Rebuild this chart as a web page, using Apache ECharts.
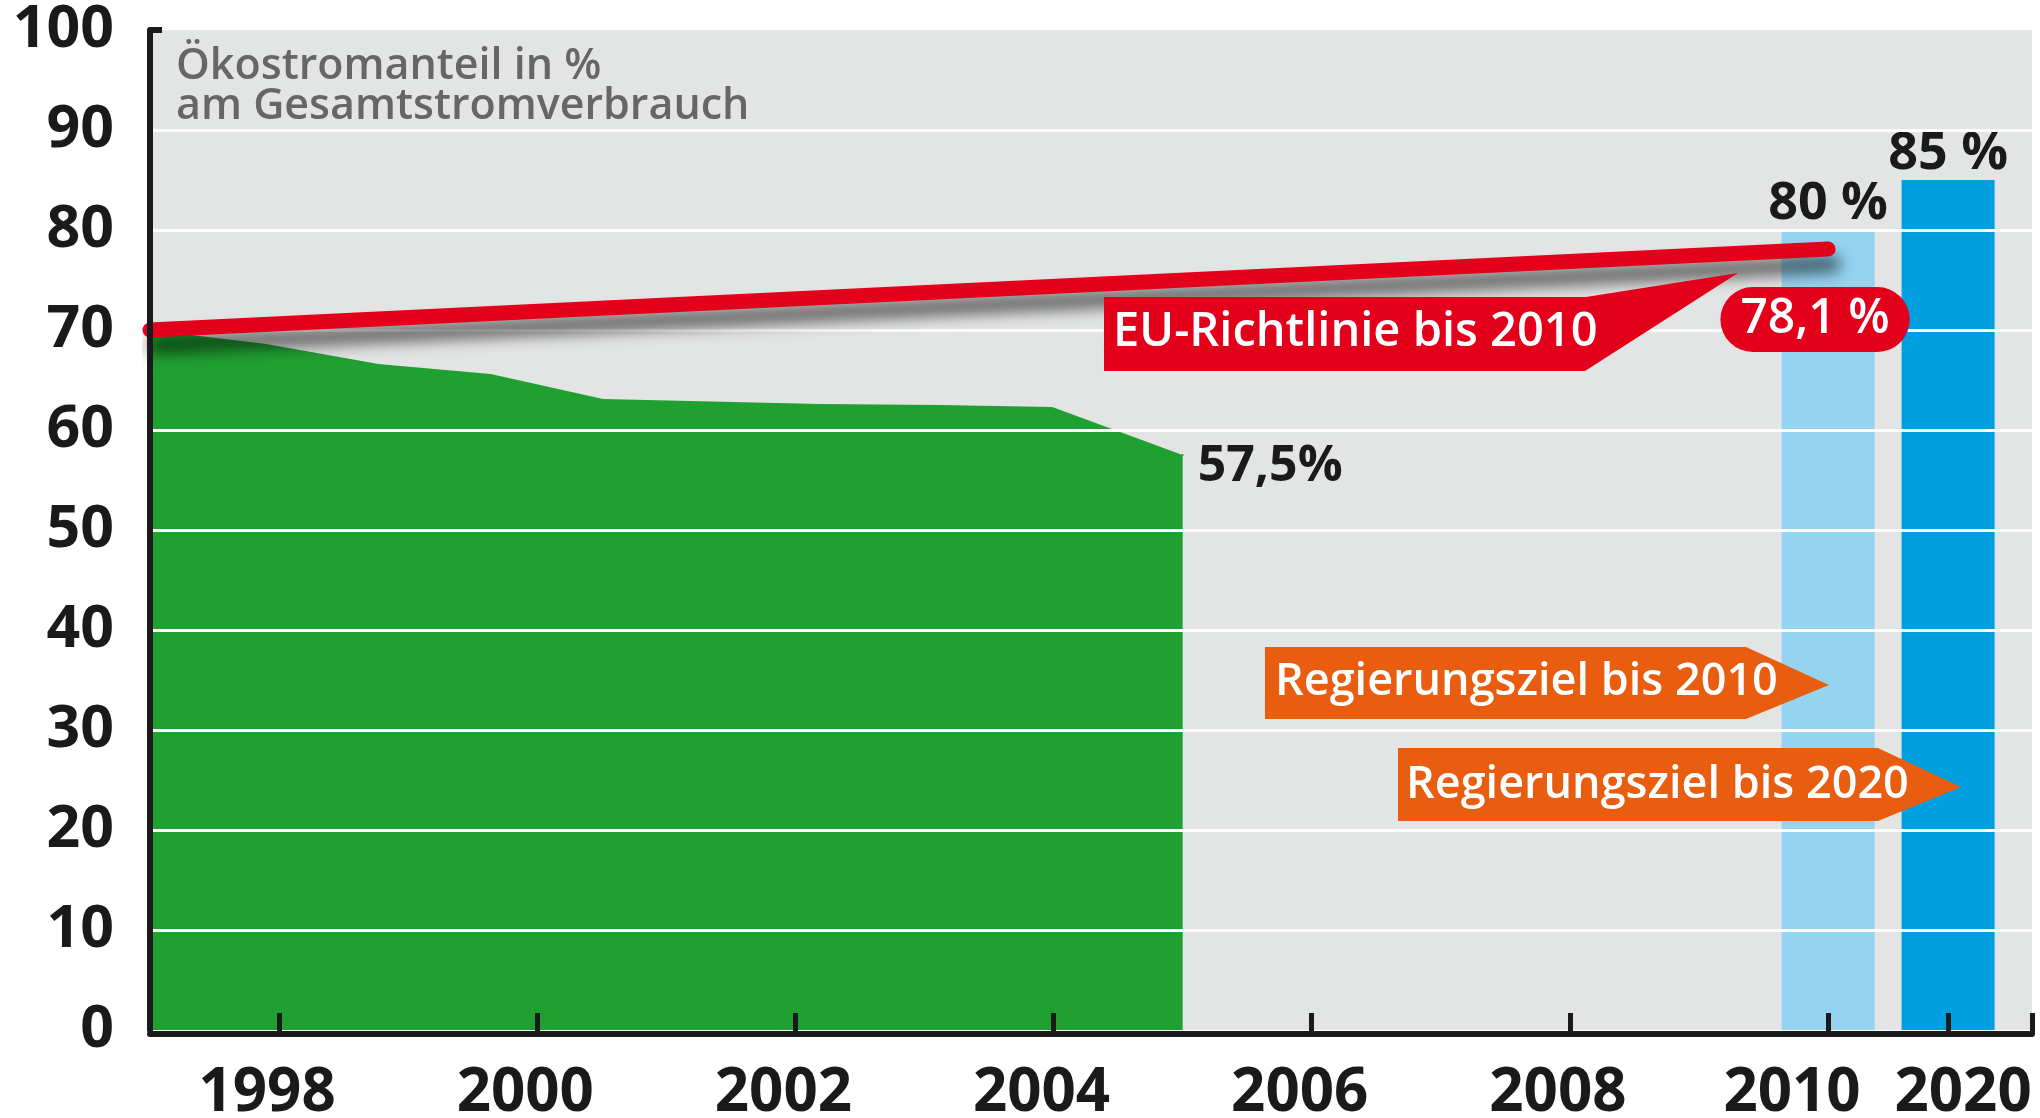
<!DOCTYPE html>
<html lang="de">
<head>
<meta charset="UTF-8">
<title>Ökostromanteil am Gesamtstromverbrauch</title>
<script src="https://cdn.jsdelivr.net/npm/echarts@6/dist/echarts.min.js"></script>
<style>
  html, body { margin: 0; padding: 0; background: #ffffff; }
  #chart { width: 2040px; height: 1118px; }
</style>
</head>
<body>
<div id="chart"></div>
<script>
    // Ökostromanteil (green area)
    var years = [1997, 1997.9, 1998.77, 1999.64, 2000.51, 2002.19, 2003.12, 2003.99, 2005];
    var share = [70, 68.6, 66.6, 65.6, 63.1, 62.6, 62.5, 62.3, 57.5];
    // EU-Richtlinie bis 2010
    var euYears = [1997, 2010];
    var euShare = [70, 78.1];
    // Regierungsziele
    var targetYears = [2010, 2020];
    var targetShare = [80, 85];
    // axis ticks
    var yearTicks = [1998, 2000, 2002, 2004, 2006, 2008, 2010];
    var breakTicks = [2020];
    var gridValues = [10, 20, 30, 40, 50, 60, 70, 80, 90];

    var axisStart = 1997;
    var axisEnd = 2011.58;
    var breakGap = 9.07;   // the axis jumps from 2011 to 2020

    var font = 'Open Sans';
    var ink = '#1a1a1a';

    var areaData = years.map(function (y, i) { return [y, share[i]]; });
    areaData[areaData.length - 1] = {
        value: areaData[areaData.length - 1],
        symbol: 'circle',
        symbolSize: 2,
        label: {
            show: true,
            position: 'right',
            distance: 14,
            offset: [0, 12],
            formatter: function (p) { return p.value[1].toFixed(1).replace('.', ',') + '%'; },
            color: ink,
            fontFamily: font,
            fontWeight: 'bold',
            fontSize: 50
        }
    };

    var euData = euYears.map(function (y, i) { return [y, euShare[i]]; });
    euData[euData.length - 1] = {
        value: euData[euData.length - 1],
        symbol: 'circle',
        symbolSize: 2,
        label: {
            show: true,
            position: 'bottom',
            distance: 37,
            offset: [-13, 0],
            formatter: function (p) { return p.value[1].toFixed(1).replace('.', ',') + ' %'; },
            color: '#ffffff',
            fontFamily: font,
            fontWeight: 600,
            fontSize: 48,
            lineHeight: 53,
            backgroundColor: '#e2001a',
            borderRadius: 33,
            padding: [6, 20]
        }
    };

    var barLabel = {
        show: true,
        position: 'top',
        distance: 0,
        formatter: function (p) { return p.value[1] + ' %'; },
        color: ink,
        fontFamily: font,
        fontWeight: 'bold',
        fontSize: 52
    };

    var yearLabel = {
        margin: 30,
        color: ink,
        fontFamily: font,
        fontWeight: 'bold',
        fontSize: 60
    };

    function arrow(points, text, tx, ty, color, size) {
        return {
            type: 'group',
            children: [
                { type: 'polygon', z: 100, shape: { points: points }, style: { fill: color } },
                {
                    type: 'text', z: 101, x: tx, y: ty,
                    style: {
                        text: text, fill: '#ffffff', fontFamily: font, fontWeight: 600,
                        fontSize: size, verticalAlign: 'middle', align: 'left'
                    }
                }
            ]
        };
    }

    var option = {
        backgroundColor: '#ffffff',
        animation: false,
        title: {
            text: 'Ökostromanteil in %\nam Gesamtstromverbrauch',
            left: 176,
            top: 47,
            padding: 0,
            textStyle: {
                color: '#666666',
                fontFamily: font,
                fontWeight: 600,
                fontSize: 43,
                lineHeight: 40
            }
        },
        grid: {
            left: 150,
            right: 8,
            top: 30,
            bottom: 88,
            show: true,
            backgroundColor: '#e3e5e4',
            borderWidth: 0,
            outerBoundsMode: 'none'
        },
        xAxis: [
            {
                type: 'value',
                min: axisStart,
                max: axisEnd,
                position: 'bottom',
                offset: 4,
                z: 10,
                axisLine: { show: true, onZero: false, lineStyle: { color: ink, width: 6 } },
                axisTick: {
                    show: true, inside: true, length: 21,
                    customValues: yearTicks.concat([axisEnd]),
                    lineStyle: { color: ink, width: 5 }
                },
                axisLabel: Object.assign({
                    customValues: yearTicks,
                    padding: [0, 24, 0, 0],
                    formatter: function (v) {
                        return v === 2010 ? '{shift|' + v + '}' : String(v);
                    },
                    rich: {
                        shift: {
                            color: ink, fontFamily: font, fontWeight: 'bold', fontSize: 60,
                            padding: [0, 48, 0, 0]
                        }
                    }
                }, yearLabel),
                splitLine: { show: false }
            },
            {
                type: 'value',
                min: axisStart + breakGap,
                max: axisEnd + breakGap,
                position: 'bottom',
                offset: 4,
                z: 10,
                axisLine: { show: false, onZero: false },
                axisTick: {
                    show: true, inside: true, length: 21, customValues: breakTicks,
                    lineStyle: { color: ink, width: 5 }
                },
                axisLabel: Object.assign({
                    customValues: breakTicks,
                    padding: [0, 0, 0, 30],
                    formatter: function (v) { return String(v); }
                }, yearLabel),
                splitLine: { show: false }
            }
        ],
        yAxis: {
            type: 'value',
            min: 0,
            max: 100,
            interval: 10,
            z: 10,
            axisLine: { show: true, lineStyle: { color: ink, width: 6 } },
            axisTick: { show: true, inside: true, length: 12, customValues: [100], lineStyle: { color: ink, width: 6 } },
            axisLabel: { margin: 36, color: ink, fontFamily: font, fontWeight: 'bold', fontSize: 59 },
            splitLine: { show: false }
        },
        series: [
            {
                name: 'Ökostromanteil',
                type: 'line',
                xAxisIndex: 0,
                data: areaData,
                symbol: 'none',
                lineStyle: { width: 0 },
                itemStyle: { color: '#21a032' },
                areaStyle: { color: '#21a032', opacity: 1 },
                z: 1
            },
            {
                name: 'Regierungsziel bis 2010',
                type: 'bar',
                xAxisIndex: 0,
                barWidth: 93,
                data: [[targetYears[0], targetShare[0]]],
                itemStyle: { color: '#94d4f1' },
                label: barLabel,
                z: 1
            },
            {
                name: 'Regierungsziel bis 2020',
                type: 'bar',
                xAxisIndex: 1,
                barWidth: 93,
                data: [[targetYears[1], targetShare[1]]],
                itemStyle: { color: '#009fe0' },
                label: barLabel,
                z: 1
            },
            {
                // white grid lines drawn over area and bars
                name: 'grid',
                type: 'line',
                xAxisIndex: 0,
                data: [],
                symbol: 'none',
                silent: true,
                z: 3,
                markLine: {
                    silent: true,
                    symbol: ['none', 'none'],
                    label: { show: false },
                    lineStyle: { color: '#ffffff', width: 3, type: 'solid' },
                    data: gridValues.map(function (v) { return { yAxis: v }; })
                }
            },
            {
                name: 'EU-Richtlinie bis 2010',
                type: 'line',
                xAxisIndex: 0,
                data: euData,
                symbol: 'none',
                itemStyle: { color: '#e2001a' },
                lineStyle: {
                    color: '#e2001a', width: 15, cap: 'round',
                    shadowColor: 'rgba(0,0,0,0.65)', shadowBlur: 16, shadowOffsetX: 5, shadowOffsetY: 15
                },
                z: 6
            }
        ],
        graphic: [
            arrow([[1104, 297], [1586, 297], [1738, 273], [1585, 371], [1104, 371]],
                'EU-Richtlinie bis 2010', 1113, 333, '#e2001a', 47),
            arrow([[1265, 647], [1746, 647], [1829, 685], [1746, 719], [1265, 719]],
                'Regierungsziel bis 2010', 1275, 682, '#e85d0f', 45),
            arrow([[1398, 748], [1878, 748], [1961, 787], [1878, 821], [1398, 821]],
                'Regierungsziel bis 2020', 1406, 785, '#e85d0f', 45)
        ]
    };

    echarts.init(document.getElementById('chart')).setOption(option);
</script>
</body>
</html>
